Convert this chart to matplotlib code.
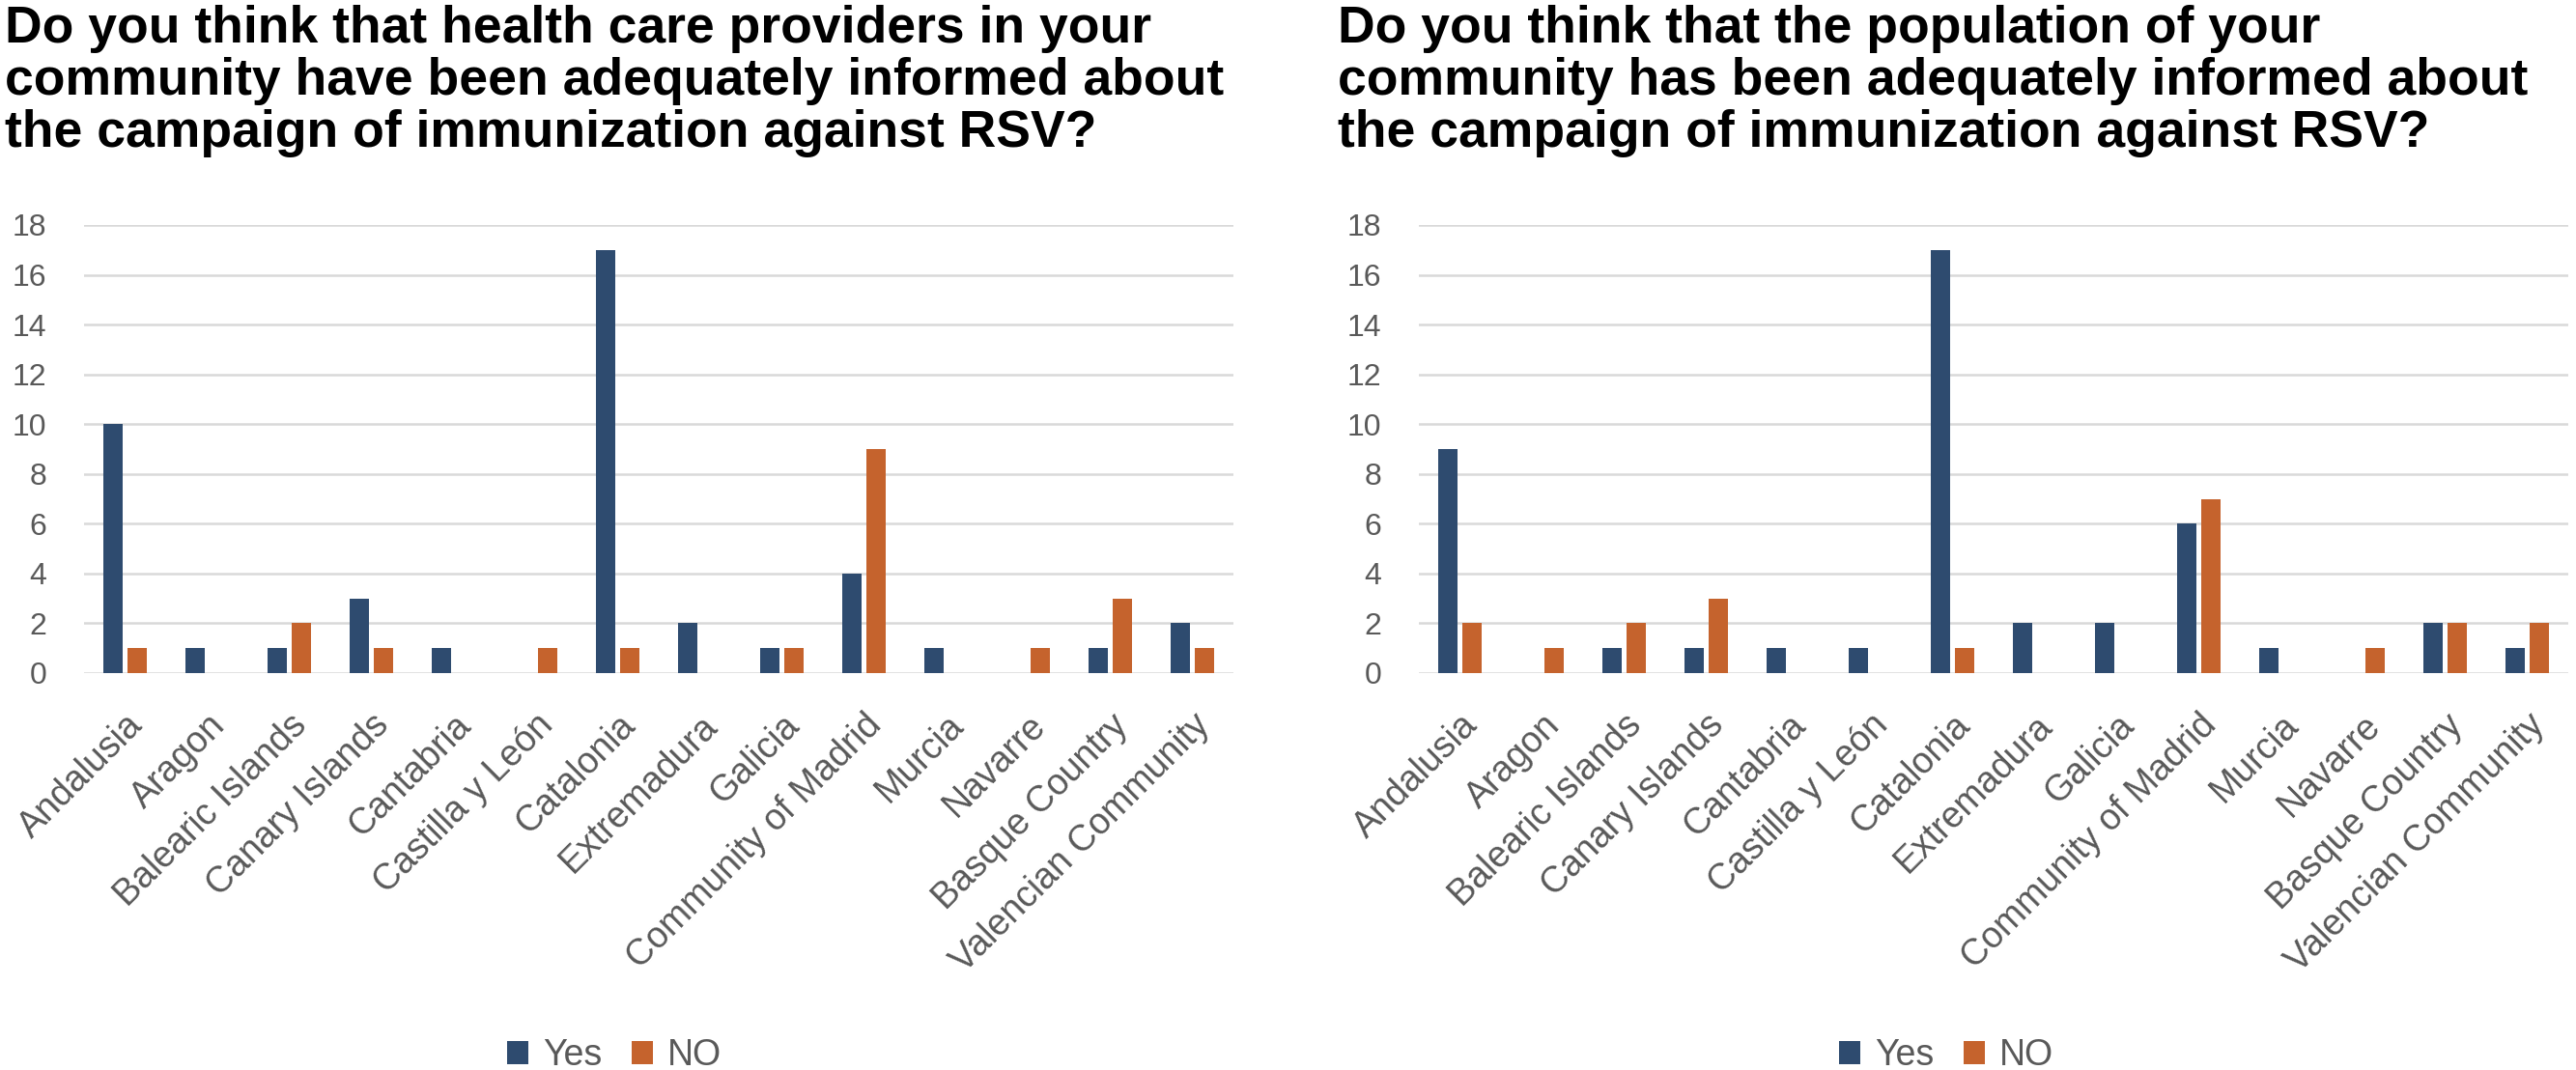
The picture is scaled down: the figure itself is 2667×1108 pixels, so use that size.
import matplotlib
matplotlib.use("Agg")
import matplotlib.pyplot as plt
import numpy as np

plt.rcParams['font.family'] = ['Liberation Sans', 'DejaVu Sans']

regions = ["Andalusia", "Aragon", "Balearic Islands", "Canary Islands", "Cantabria",
           "Castilla y León", "Catalonia", "Extremadura", "Galicia", "Community of Madrid",
           "Murcia", "Navarre", "Basque Country", "Valencian Community"]

# providers informed?
prov_yes = [10, 1, 1, 3, 1, 0, 17, 2, 1, 4, 1, 0, 1, 2]
prov_no = [1, 0, 2, 1, 0, 1, 1, 0, 1, 9, 0, 1, 3, 1]

# population informed?
pop_yes = [9, 0, 1, 1, 1, 1, 17, 2, 2, 6, 1, 0, 2, 1]
pop_no = [2, 1, 2, 3, 0, 0, 1, 0, 0, 7, 0, 1, 2, 2]

title_left = ("Do you think that health care providers in your\n"
              "community have been adequately informed about\n"
              "the campaign of immunization against RSV?")
title_right = ("Do you think that the population of your\n"
               "community has been adequately informed about\n"
               "the campaign of immunization against RSV?")

yticks = list(range(0, 19, 2))

c_yes = "#2E4B6F"
c_no = "#C5632D"
c_txt = "#595959"
c_grid = "#D9D9D9"

W, H = 2667, 1108
fig = plt.figure(figsize=(W / 100, H / 100), dpi=100)


def draw(ax, yes, no):
    x = np.arange(len(regions))
    w = 0.234
    off = 0.147
    ax.bar(x - off, yes, w, color=c_yes, label="Yes", zorder=3)
    ax.bar(x + off, no, w, color=c_no, label="NO", zorder=3)
    ax.set_xlim(-0.5, len(regions) - 0.5)
    ax.set_ylim(0, 18)
    ax.set_yticks(yticks)
    ax.yaxis.grid(True, color=c_grid, lw=1.8, zorder=0)
    ax.set_axisbelow(True)
    for s in ax.spines.values():
        s.set_visible(False)
    ax.tick_params(axis="both", length=0, colors=c_txt)
    ax.tick_params(axis="y", labelsize=23, pad=28)
    ax.set_xticks(x)
    ax.set_xticklabels(regions, rotation=45, ha="right", rotation_mode="anchor",
                       fontsize=27, color=c_txt)
    ax.tick_params(axis="x", pad=26)


ax1 = fig.add_axes([87 / W, 411 / H, 1190 / W, 464 / H])
draw(ax1, prov_yes, prov_no)
ax2 = fig.add_axes([1469 / W, 411 / H, 1190 / W, 464 / H])
draw(ax2, pop_yes, pop_no)

fig.text(5 / W, 1 - 5 / H, title_left, ha="left", va="top", fontsize=38.5,
         fontweight="bold", color="black", linespacing=1.1)
fig.text(1385 / W, 1 - 5 / H, title_right, ha="left", va="top", fontsize=38.5,
         fontweight="bold", color="black", linespacing=1.1)

for ax, cx in [(ax1, 636), (ax2, 2015)]:
    h, l = ax.get_legend_handles_labels()
    fig.legend(h, l, loc="center", bbox_to_anchor=(cx / W, 15 / H), ncol=2,
               frameon=False, fontsize=27, labelcolor=c_txt, handlelength=0.6,
               handleheight=0.6, handletextpad=0.4, columnspacing=0.8)

fig.savefig("out.png", dpi=100, facecolor="white")
